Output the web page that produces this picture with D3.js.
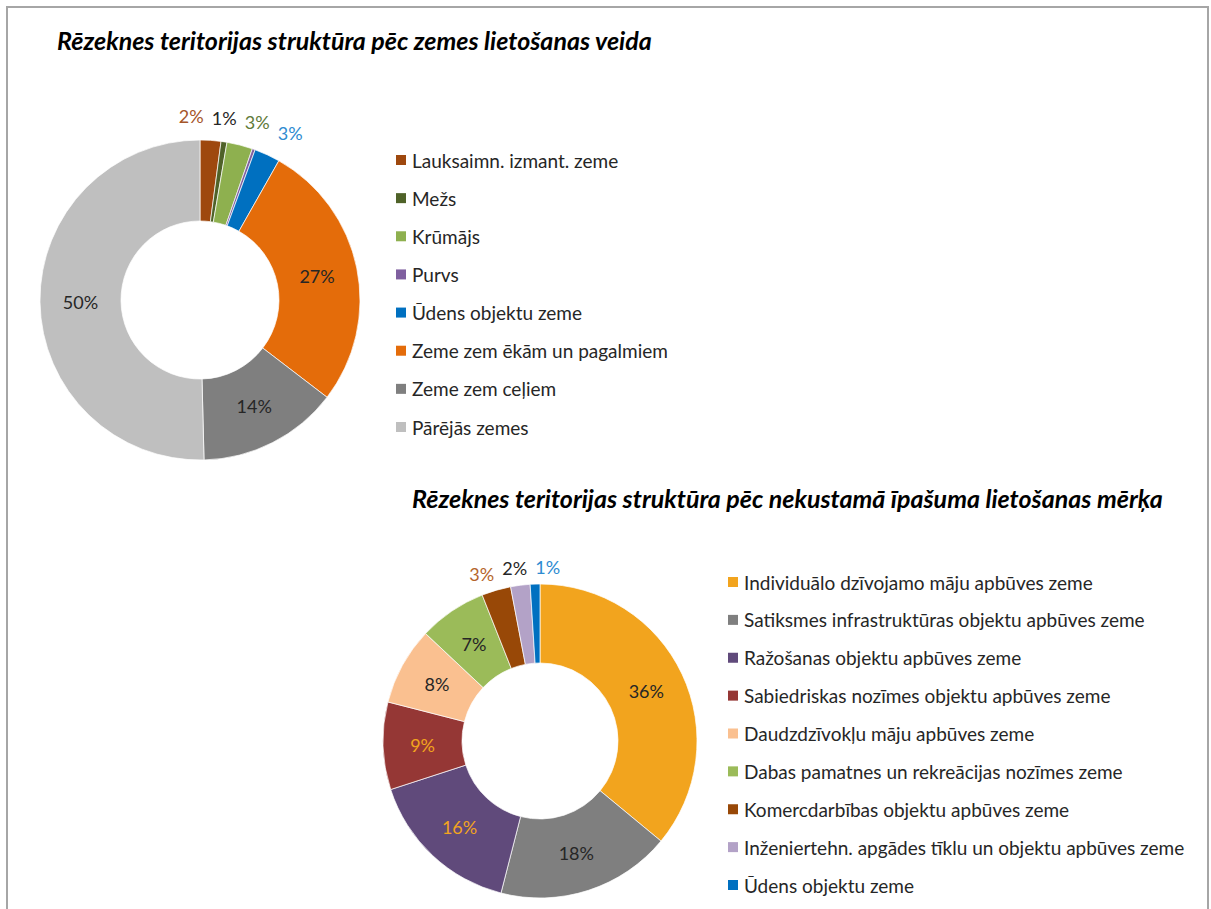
<!DOCTYPE html>
<html lang="lv">
<head>
  <meta charset="UTF-8">
  <title>Rēzeknes teritorijas struktūra</title>
  <style>
  body {
    margin: 0;
    background: white;
  }
  svg text {
    font-family: Lato, "Open Sans", sans-serif;
  }
  .title {
    font-weight: bold;
    font-style: italic;
    font-size: 25px;
    fill: #000;
  }
  .legend text {
    font-size: 19px;
    fill: #262626;
  }
  .pct {
    font-size: 18px;
  }
  </style>
</head>
<body>
  <script src="https://d3js.org/d3.v7.min.js"></script>
  <script>

  // chart 1: zemes lietošanas veids
  var landNames = ['Lauksaimn. izmant. zeme', 'Mežs', 'Krūmājs', 'Purvs', 'Ūdens objektu zeme',
                   'Zeme zem ēkām un pagalmiem', 'Zeme zem ceļiem', 'Pārējās zemes'];
  var landValues = [2.1, 0.6, 2.6, 0.3, 2.6, 27.2, 14.2, 50.4];
  var landColors = ['#9e480e', '#4f6228', '#8eb04f', '#7f5f9f', '#0070c0', '#e46c0a', '#7f7f7f', '#bfbfbf'];
  var landLabelColors = ['#a5562a', '#262626', '#607a38', null, '#2e8bd1', '#262626', '#262626', '#262626'];

  // chart 2: nekustamā īpašuma lietošanas mērķis
  var useNames = ['Individuālo dzīvojamo māju apbūves zeme', 'Satiksmes infrastruktūras objektu apbūves zeme',
                  'Ražošanas objektu apbūves zeme', 'Sabiedriskas nozīmes objektu apbūves zeme',
                  'Daudzdzīvokļu māju apbūves zeme', 'Dabas pamatnes un rekreācijas nozīmes zeme',
                  'Komercdarbības objektu apbūves zeme', 'Inženiertehn. apgādes tīklu un objektu apbūves zeme',
                  'Ūdens objektu zeme'];
  var useValues = [36, 18, 16, 9, 8, 7, 3, 2, 1];
  var useColors = ['#f2a41e', '#7f7f7f', '#604a7b', '#953735', '#fac090', '#9bbb59', '#984807', '#b3a2c7', '#0070c0'];
  var useLabelColors = ['#262626', '#262626', '#f2a41e', '#f2a41e', '#262626', '#262626', '#b5652b', '#262626', '#2e8bd1'];

  var width = 1211;
  var height = 909;

  var svg = d3.select('body').append('svg')
              .attr('width', width)
              .attr('height', height);

  svg.append('rect')
     .attr('width', width)
     .attr('height', height)
     .attr('fill', 'white');

  svg.append('rect')
     .attr('x', 7)
     .attr('y', 7)
     .attr('width', 1201)
     .attr('height', 920)
     .attr('fill', 'none')
     .attr('stroke', '#a6a6a6')
     .attr('stroke-width', 2);

  function donut(cfg) {
    var g = svg.append('g');

    g.append('text')
     .attr('class', 'title')
     .attr('x', cfg.titleX)
     .attr('y', cfg.titleY)
     .text(cfg.title);

    var pie = d3.pie().sort(null).value(function (d) { return d.value; });
    var arcs = pie(cfg.names.map(function (n, i) {
      return { name: n, value: cfg.values[i], color: cfg.colors[i], labelColor: cfg.labelColors[i] };
    }));
    var total = d3.sum(cfg.values);

    var arc = d3.arc().innerRadius(cfg.inner).outerRadius(cfg.outer);
    var mid = d3.arc().innerRadius((cfg.inner + cfg.outer) / 2).outerRadius((cfg.inner + cfg.outer) / 2);
    var out = d3.arc().innerRadius(cfg.outer + cfg.labelGap).outerRadius(cfg.outer + cfg.labelGap);

    var chart = g.append('g')
                 .attr('transform', 'translate(' + cfg.cx + ',' + cfg.cy + ')');

    chart.selectAll('path')
         .data(arcs)
         .enter()
         .append('path')
         .attr('d', arc)
         .attr('fill', function (d) { return d.data.color; })
         .attr('stroke', 'white')
         .attr('stroke-width', 0.7);

    // labels: big slices inside, small ones outside and spread apart
    var labels = arcs.filter(function (d) { return d.data.labelColor; }).map(function (d) {
      var share = d.data.value / total;
      var inside = share > 0.05;
      var p = inside ? mid.centroid(d) : out.centroid(d);
      return { d: d, inside: inside, x: p[0], y: p[1], text: Math.round(share * 100) + '%' };
    });

    var outside = labels.filter(function (l) { return !l.inside; });
    for (var it = 0; it < 200; it++) {
      for (var i = 1; i < outside.length; i++) {
        var a = outside[i - 1], b = outside[i];
        var gap = cfg.labelSpacing - Math.abs(b.x - a.x);
        if (gap > 0) {
          var dir = b.x >= a.x ? 1 : -1;
          a.x -= dir * gap / 2;
          b.x += dir * gap / 2;
        }
      }
    }

    chart.selectAll('text.pct')
         .data(labels)
         .enter()
         .append('text')
         .attr('class', 'pct')
         .attr('x', function (l) { return l.x; })
         .attr('y', function (l) { return l.y; })
         .attr('text-anchor', 'middle')
         .attr('dominant-baseline', 'central')
         .attr('fill', function (l) { return l.d.data.labelColor; })
         .text(function (l) { return l.text; });

    var rows = d3.scalePoint()
                 .domain(cfg.names)
                 .range([cfg.legendTop, cfg.legendBottom]);

    var legend = g.append('g')
                  .attr('class', 'legend')
                  .selectAll('g')
                  .data(arcs)
                  .enter()
                  .append('g')
                  .attr('transform', function (d) {
                    return 'translate(' + cfg.legendX + ',' + rows(d.data.name) + ')';
                  });

    legend.append('rect')
          .attr('x', 0)
          .attr('y', -5)
          .attr('width', 10)
          .attr('height', 10)
          .attr('fill', function (d) { return d.data.color; });

    legend.append('text')
          .attr('x', 16)
          .attr('y', 0)
          .attr('dominant-baseline', 'central')
          .text(function (d) { return d.data.name; });
  }

  donut({
    title: 'Rēzeknes teritorijas struktūra pēc zemes lietošanas veida',
    titleX: 57, titleY: 50,
    names: landNames, values: landValues, colors: landColors, labelColors: landLabelColors,
    cx: 200, cy: 300, outer: 160, inner: 79, labelGap: 24, labelSpacing: 33,
    legendX: 396, legendTop: 160, legendBottom: 427
  });

  donut({
    title: 'Rēzeknes teritorijas struktūra pēc nekustamā īpašuma lietošanas mērķa',
    titleX: 412, titleY: 508,
    names: useNames, values: useValues, colors: useColors, labelColors: useLabelColors,
    cx: 540, cy: 741, outer: 157, inner: 78, labelGap: 17, labelSpacing: 33,
    legendX: 728, legendTop: 582, legendBottom: 885
  });
  </script>
</body>
</html>
